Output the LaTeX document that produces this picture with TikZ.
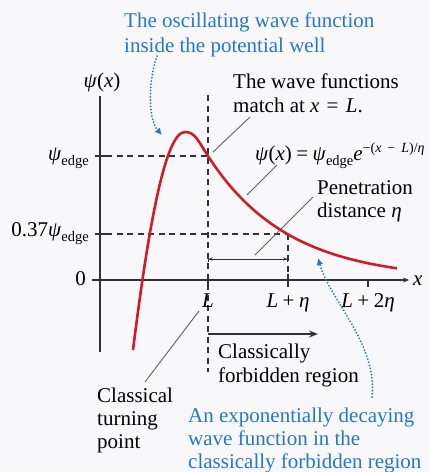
\documentclass[tikz,border=0pt]{standalone}
\usepackage{fontspec}
\setmainfont{Liberation Serif}
\usetikzlibrary{arrows.meta}
\definecolor{bluetxt}{RGB}{35,120,200}
\definecolor{redcurve}{RGB}{205,30,40}
\definecolor{axisgray}{RGB}{50,50,50}
\definecolor{leadgray}{RGB}{95,95,95}
\definecolor{bgcol}{RGB}{248,248,250}
\newcommand{\edg}{\raisebox{-5pt}{\fontsize{14.5}{15}\selectfont edge}}
\newcommand{\mpsi}{\textit{ψ}}
\newcommand{\sym}[1]{\hspace{4.5pt}#1\hspace{4.5pt}}
\begin{document}
\begin{tikzpicture}[x=1pt,y=-1pt,
  font=\fontsize{21}{24}\selectfont,
  lbl/.style={inner sep=0pt, anchor=base west, align=left},
  axisline/.style={draw=axisgray, line width=1.2pt},
  dashline/.style={draw=axisgray, line width=1.3pt, dash pattern=on 6pt off 4.5pt},
  leader/.style={draw=leadgray, line width=0.9pt},
  bluedot/.style={draw=bluetxt, line width=2pt, line cap=round, dash pattern=on 0pt off 3.2pt,
     -{Latex[length=7pt,width=7pt,fill=bluetxt]}},
  redc/.style={draw=redcurve, line width=2.6pt}]
\fill[bgcol] (0,0) rectangle (430,472);
\useasboundingbox (0,0) rectangle (430,472);
\clip (0,0) rectangle (430,472);

% axes
\coordinate (ytop) at (100,96);
\coordinate (ybot) at (100,352);
\coordinate (xstart) at (92,280);
\coordinate (xend) at (409,280);
\draw[axisline] (ytop) -- (ybot);
\draw[axisline, -{Stealth[length=6pt,width=5pt]}] (xstart) -- (xend);

% y ticks
\coordinate (t1a) at (95,156); \coordinate (t1b) at (106,156);
\coordinate (t2a) at (95,234); \coordinate (t2b) at (106,234);
\draw[axisline] (t1a) -- (t1b);
\draw[axisline] (t2a) -- (t2b);

% x ticks
\coordinate (xt1a) at (208,280); \coordinate (xt1b) at (208,287);
\coordinate (xt2a) at (288,274); \coordinate (xt2b) at (288,287);
\coordinate (xt3a) at (368,280); \coordinate (xt3b) at (368,287);
\draw[axisline] (xt1a) -- (xt1b);
\draw[axisline] (xt2a) -- (xt2b);
\draw[axisline] (xt3a) -- (xt3b);

% dashed guide lines
\coordinate (Ltop) at (208,95);
\coordinate (Lbot) at (208,372);
\coordinate (edgeL) at (106,156);
\coordinate (edgeR) at (208,156);
\coordinate (p37L) at (106,234);
\coordinate (p37R) at (288,234);
\coordinate (etaBot) at (288,274);
\draw[dashline] (Ltop) -- (Lbot);
\draw[dashline] (edgeL) -- (edgeR);
\draw[dashline] (p37L) -- (p37R);
\draw[dashline] (p37R) -- (etaBot);

% penetration dimension
\coordinate (dimA) at (208,259);
\coordinate (dimB) at (288,259);
\draw[draw=axisgray, line width=0.9pt, {Bar[width=6pt]Stealth[length=4pt,width=3.5pt]}-{Stealth[length=4pt,width=3.5pt]Bar[width=6pt]}] (dimA) -- (dimB);

% forbidden arrow
\coordinate (fA) at (208,334);
\coordinate (fB) at (318,334);
\draw[draw=axisgray, line width=1.3pt, -{Stealth[length=9pt,width=7pt]}] (fA) -- (fB);

% red wave function
\draw[redc] (133,350) .. controls (148,230) and (165,132) .. (185,132)
  .. controls (195,132) and (198,140.5) .. (208,156)
  -- plot[domain=208:397, samples=60] (\x, {280-124*exp(-(\x-208)/80)});

% leader lines
\coordinate (mlA) at (250,117); \coordinate (mlB) at (213,152);
\coordinate (elA) at (277,165); \coordinate (elB) at (247,195);
\coordinate (plA) at (313,197); \coordinate (plB) at (255,255);
\coordinate (tlA) at (199,311); \coordinate (tlB) at (145,382);
\draw[leader] (mlA) -- (mlB);
\draw[leader] (elA) -- (elB);
\draw[leader] (plA) -- (plB);
\draw[leader] (tlA) -- (tlB);

% axis labels
\node[inner sep=0pt, anchor=base] (psilab) at (102,87) {\mpsi(\textit{x})};
\node[inner sep=0pt, anchor=base east] (edgelab) at (89,160) {\mpsi\edg};
\node[inner sep=0pt, anchor=base east] (p37lab) at (89,236) {0.37\mpsi\edg};
\node[inner sep=0pt, anchor=base east] (zerolab) at (86,285) {0};
\node[inner sep=0pt, anchor=base west] (xlab) at (413,285) {\textit{x}};
\node[inner sep=0pt, anchor=base] (Llab) at (208,307) {\textit{L}};
\node[inner sep=0pt, anchor=base] (Letalab) at (288,307) {\textit{L}\sym{+}\textit{η}};
\node[inner sep=0pt, anchor=base] (L2etalab) at (368,307) {\textit{L}\sym{+}2\textit{η}};

% texts (base anchor = baseline of the last line)
\node[lbl, text=bluetxt, font=\fontsize{21}{25}\selectfont] (osctxt) at (124,52) {The oscillating wave function\\inside the potential well};
\node[lbl] (matchtxt) at (233,112) {The wave functions\\match at \textit{x}\hspace{2pt} = \hspace{2pt}\textit{L}.};
\node[lbl] (eqtxt) at (255,160) {\mpsi(\textit{x})\sym{=}\mpsi\edg\textit{e}\raisebox{8pt}{\fontsize{14}{14}\selectfont −(\textit{x}\hspace{2.5pt} − \hspace{2.5pt}\textit{L})/\textit{η}}};
\node[lbl, font=\fontsize{21}{22.5}\selectfont] (pentxt) at (317,217) {Penetration\\distance \textit{η}};
\node[lbl] (forbtxt) at (218,382) {Classically\\forbidden region};
\node[lbl, font=\fontsize{21}{23}\selectfont] (turntxt) at (97,448) {Classical\\turning\\point};
\node[lbl, text=bluetxt, font=\fontsize{21}{23}\selectfont] (decaytxt) at (188,468) {An exponentially decaying\\wave function in the\\classically forbidden region};

% blue dotted arrows
\coordinate (b1A) at (157,56);
\coordinate (b1B) at (162,135);
\draw[bluedot] (b1A) .. controls (149,78) and (147,118) .. (b1B);
\coordinate (b2A) at (372,397);
\coordinate (b2B) at (318,258);
\draw[bluedot] (b2A) .. controls (378,345) and (330,300) .. (b2B);
\end{tikzpicture}
\end{document}
